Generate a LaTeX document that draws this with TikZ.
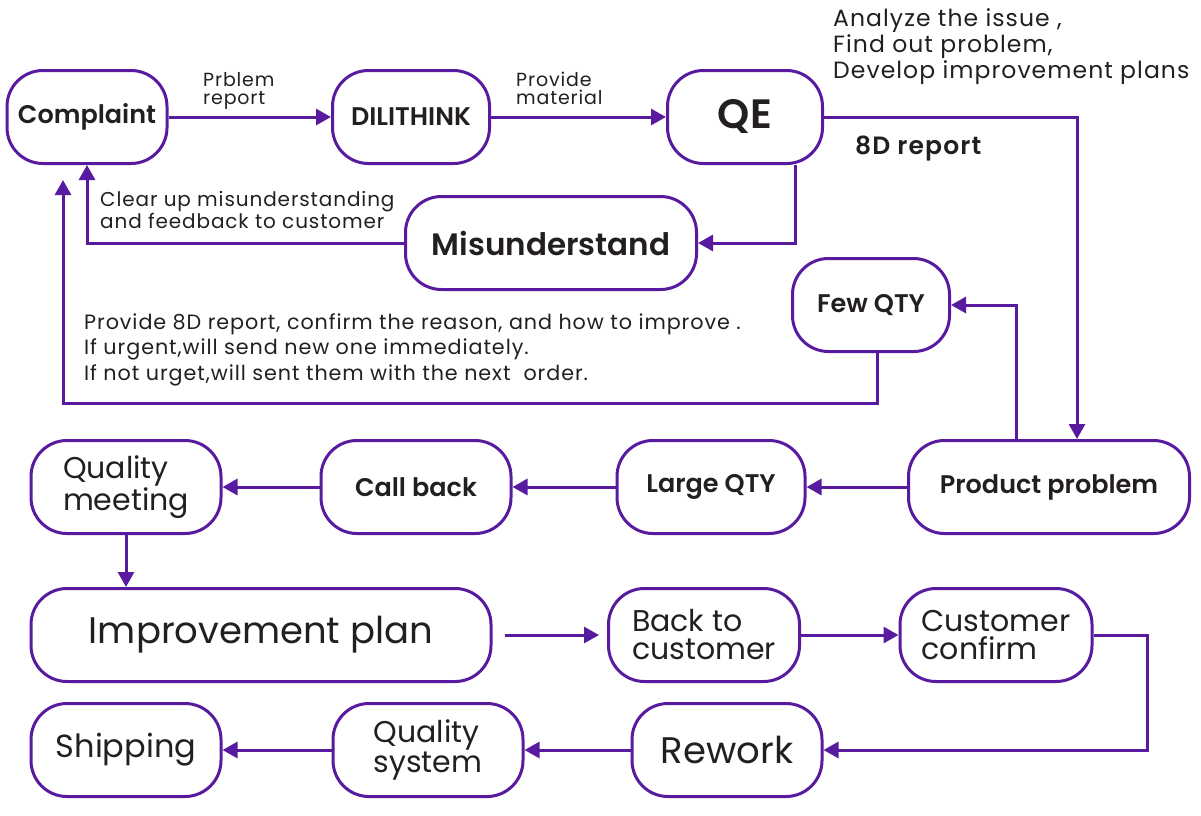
\documentclass[tikz,border=0pt]{standalone}
\usepackage{fontspec}
\setmainfont{Poppins}[BoldFont={* SemiBold}]
\newfontfamily\notefont{Poppins}[LetterSpace=4.5,BoldFont={* SemiBold}]
\usetikzlibrary{arrows.meta,positioning,calc}
\definecolor{qpurple}{RGB}{88,26,158}
\definecolor{qtext}{RGB}{35,31,32}
\newcommand{\fs}[2]{\fontsize{#1}{#2}\selectfont}

\begin{document}
\begin{tikzpicture}
[x=1pt,y=-1pt,
box/.style={draw=qpurple,line width=3pt,rounded corners=36pt,minimum height=93pt,minimum width=190pt,inner sep=0pt,text=qtext},
boldbox/.style={box,align=center,font=\bfseries\fs{25.5}{25.5}},
plainbox/.style={box,align=left,font=\fs{30}{28}},
arr/.style={qpurple,line width=3pt,-{Triangle[length=15pt,width=16pt]}},
note/.style={text=qtext,align=left,inner sep=0pt,anchor=north west}]
\useasboundingbox (0,0) rectangle (1201,815);
%% Boxes
% top row
\node[boldbox,minimum width=160pt] (complaint) at (87,117) {Complaint};
\node[boldbox,minimum width=157pt] (dili) at (411,117) {DILITHINK};
\node[boldbox,minimum width=155pt,font=\bfseries\fs{41}{41}] (qe) at (745,117) {QE};
\node[boldbox,minimum width=291pt,font=\bfseries\fs{31}{31}] (mis) at (551,243) {Misunderstand};
\node[boldbox,minimum width=157pt] (few) at (871,305) {Few QTY};
% middle row
\node[boldbox,minimum width=281pt] (pp) at (1049,487) {Product problem};
\node[boldbox,minimum width=188pt] (lq) at (711,487) {Large QTY};
\node[boldbox] (cb) at (416,487) {Call back};
\node[plainbox] (qm) at (126,487) {Quality\\meeting};
% lower rows
\node[plainbox,minimum width=460pt,font=\fs{37}{37}] (ip) at (261,635) {Improvement plan};
\node[plainbox,minimum width=191pt] (btc) at (704,635) {Back to\\customer};
\node[plainbox,minimum width=192pt] (cc) at (996,635) {Customer\\confirm};
\node[plainbox,font=\fs{37}{37}] (rework) at (727,750) {Rework};
\node[plainbox] (qs) at (428,750) {Quality\\system};
\node[plainbox,font=\fs{32}{32}] (ship) at (126,750) {Shipping};
%% Notes
\node[note,font=\notefont\fs{19}{18}] (lblreport) at (203,72) {Prblem\\report};
\node[note,font=\notefont\fs{19}{18}] (lblmaterial) at (516,72) {Provide\\material};
\node[note,font=\notefont\fs{23.5}{26}] (lblanalyze) at (833,8) {Analyze the issue ,\\Find out problem,\\Develop improvement plans};
\node[note,font=\notefont\bfseries\fs{25}{25}] (lbl8d) at (855,136) {8D report};
\node[note,font=\notefont\fs{20}{20}] (lblclear) at (100,191) {Clear up misunderstanding\\and feedback to customer};
\node[note,font=\notefont\fs{20.7}{25.5}] (lblprovide) at (84,313) {Provide 8D report, confirm the reason, and how to improve .\\If urgent,will send new one immediately.\\If not urget,will sent them with the next\ \ order.};
%% Connectors
\draw[arr] (complaint) -- (dili);
\draw[arr] (dili) -- (qe);
\draw[arr] (qe.east) -| ([xshift=28pt]pp.north);
\draw[arr] ([xshift=50pt]qe.south) |- (mis.east);
\draw[arr] (mis.west) -| (complaint.south);
\draw[arr] ([xshift=-33pt]pp.north) |- (few.east);
\coordinate (fbtip) at ([xshift=-24pt,yshift=-15pt]complaint.south);
\draw[arr] ([xshift=6pt]few.south) -- ++(0,50) -| (fbtip);
\draw[arr] (pp) -- (lq);
\draw[arr] (lq) -- (cb);
\draw[arr] (cb) -- (qm);
\draw[arr] (qm.south) -- (qm.south |- ip.north);
\draw[arr,shorten <=12pt,shorten >=8pt] (ip) -- (btc);
\draw[arr] (btc) -- (cc);
\draw[arr] (cc.east) -- ++(54,0) |- (rework.east);
\draw[arr] (rework) -- (qs);
\draw[arr] (qs) -- (ship);
\end{tikzpicture}
\end{document}
